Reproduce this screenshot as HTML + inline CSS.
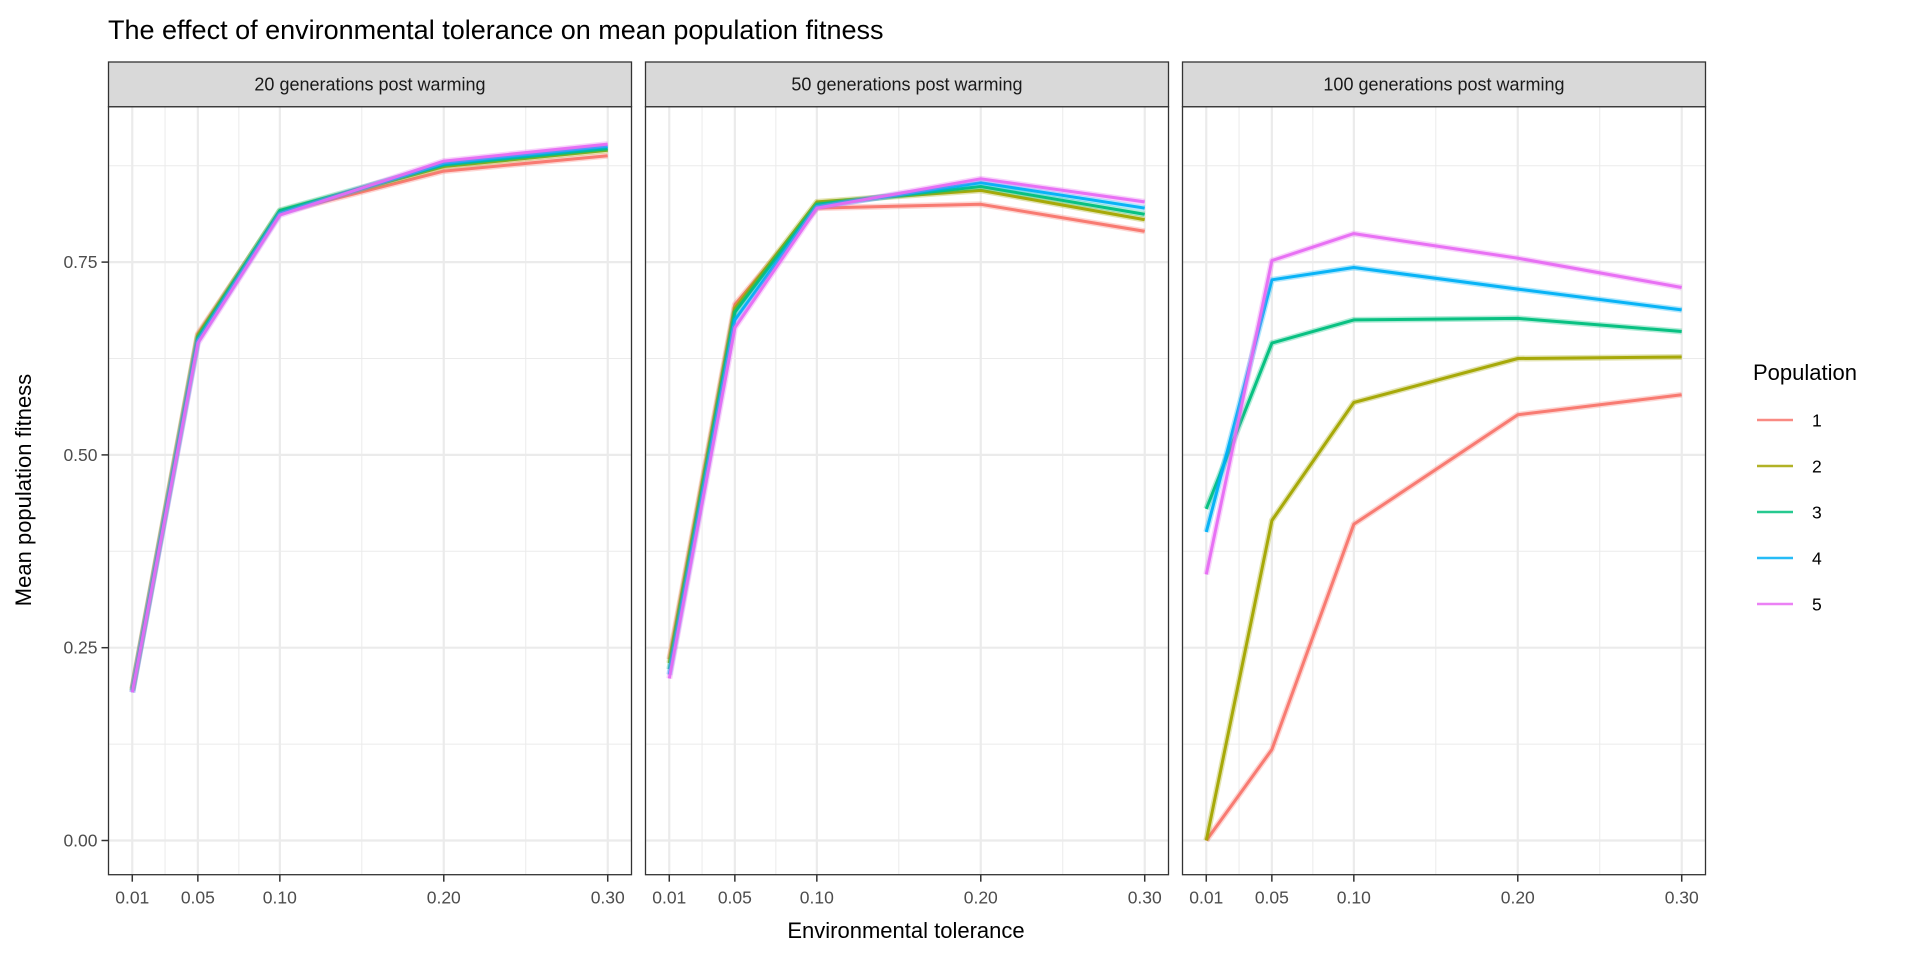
<!DOCTYPE html>
<html><head><meta charset="utf-8">
<style>
html,body{margin:0;padding:0;background:#fff;}
svg{display:block;font-family:"Liberation Sans",Arial,sans-serif;}
</style></head>
<body>
<svg id="chart" width="1920" height="960" viewBox="0 0 1920 960">
<text x="108" y="39" font-size="27" fill="#000">The effect of environmental tolerance on mean population fitness</text>
<text x="906" y="938" font-size="22" text-anchor="middle" fill="#000">Environmental tolerance</text>
<text x="0" y="0" font-size="22" text-anchor="middle" fill="#000" transform="translate(31,490) rotate(-90)">Mean population fitness</text>
<g id="legend">
<text x="1753" y="380" font-size="22" fill="#000">Population</text>
</g>
</svg>
<script>
const panelTitles = ["20 generations post warming","50 generations post warming","100 generations post warming"];
const xValues = [0.01,0.05,0.10,0.20,0.30];
const xTickLabels = ["0.01","0.05","0.10","0.20","0.30"];
const xMinor = [0.03,0.075,0.15,0.25];
const yTicks = [0,0.25,0.5,0.75];
const yTickLabels = ["0.00","0.25","0.50","0.75"];
const yMinor = [0.125,0.375,0.625,0.875];
const populations = ["1","2","3","4","5"];
const colors = ["#F8766D","#A3A500","#00BF7D","#00B0F6","#E76BF3"];
// panel 1: 20 generations
const gen20_p1 = [0.197,0.657,0.814,0.868,0.888];
const gen20_p2 = [0.195,0.655,0.816,0.874,0.895];
const gen20_p3 = [0.194,0.652,0.817,0.876,0.897];
const gen20_p4 = [0.192,0.648,0.813,0.878,0.900];
const gen20_p5 = [0.192,0.645,0.811,0.881,0.903];
// panel 2: 50 generations
const gen50_p1 = [0.235,0.695,0.820,0.825,0.790];
const gen50_p2 = [0.230,0.690,0.828,0.843,0.805];
const gen50_p3 = [0.222,0.685,0.825,0.848,0.812];
const gen50_p4 = [0.215,0.675,0.822,0.853,0.820];
const gen50_p5 = [0.210,0.665,0.820,0.858,0.828];
// panel 3: 100 generations
const gen100_p1 = [0.000,0.118,0.410,0.552,0.578];
const gen100_p2 = [0.000,0.415,0.568,0.625,0.627];
const gen100_p3 = [0.430,0.645,0.675,0.677,0.660];
const gen100_p4 = [0.400,0.727,0.743,0.715,0.688];
const gen100_p5 = [0.345,0.752,0.787,0.755,0.717];
const panelSeries = [[gen20_p1,gen20_p2,gen20_p3,gen20_p4,gen20_p5],[gen50_p1,gen50_p2,gen50_p3,gen50_p4,gen50_p5],[gen100_p1,gen100_p2,gen100_p3,gen100_p4,gen100_p5]];

const NS="http://www.w3.org/2000/svg";
const svg=document.getElementById('chart');
const panelLefts=[108.5,645.5,1182.5], panelW=523;
const pTop=106.7, pBot=874.7, stripTop=62;
const xDom=[-0.0045,0.3145];
function yScale(v){return 840.5-(v)*771.2;}
function mk(tag,attrs,parent){const e=document.createElementNS(NS,tag);for(const k in attrs)e.setAttribute(k,attrs[k]);(parent||svg).appendChild(e);return e;}

panelTitles.forEach((title,pi)=>{
  const L=panelLefts[pi];
  const xs=v=>L+(v-xDom[0])/(xDom[1]-xDom[0])*panelW;
  const g=mk('g',{});
  
  
  mk('rect',{x:L,y:pTop,width:panelW,height:pBot-pTop,fill:'#fff'},g);
  yMinor.forEach(v=>mk('line',{x1:L,x2:L+panelW,y1:yScale(v),y2:yScale(v),stroke:'#EBEBEB','stroke-width':1},g));
  xMinor.forEach(v=>mk('line',{x1:xs(v),x2:xs(v),y1:pTop,y2:pBot,stroke:'#EBEBEB','stroke-width':1},g));
  yTicks.forEach(v=>mk('line',{x1:L,x2:L+panelW,y1:yScale(v),y2:yScale(v),stroke:'#EBEBEB','stroke-width':2.2},g));
  xValues.forEach(v=>mk('line',{x1:xs(v),x2:xs(v),y1:pTop,y2:pBot,stroke:'#EBEBEB','stroke-width':2.2},g));
  panelSeries[pi].forEach((vals,si)=>{
    const pts=vals.map((v,i)=>xs(xValues[i]).toFixed(1)+','+yScale(v).toFixed(1)).join(' ');
    const halo=mk('polyline',{points:pts,fill:'none',stroke:colors[si],'stroke-width':6,'stroke-opacity':0.3,'stroke-linejoin':'round'},g);
    
    
    const ln=mk('polyline',{points:pts,fill:'none',stroke:colors[si],'stroke-width':3,'stroke-opacity':0.95,'stroke-linejoin':'round'},g);
    
    
  });
  mk('rect',{x:L,y:pTop,width:panelW,height:pBot-pTop,fill:'none',stroke:'#333','stroke-width':1.3},g);
  const strip=mk('rect',{x:L,y:stripTop,width:panelW,height:pTop-stripTop,fill:'#D9D9D9',stroke:'#333','stroke-width':1.3},g);
  
  
  const st=mk('text',{x:L+panelW/2,y:pTop-16,'font-size':18,'text-anchor':'middle',fill:'#1A1A1A'},g);
  st.textContent=title;
  
  
  xValues.forEach((v,i)=>{
    mk('line',{x1:xs(v),x2:xs(v),y1:pBot,y2:pBot+7,stroke:'#333','stroke-width':1.5},g);
    const t=mk('text',{x:xs(v),y:pBot+29,'font-size':17.5,'text-anchor':'middle',fill:'#4D4D4D'},g);
    t.textContent=xTickLabels[i];
    
    
  });
  if(pi===0){
    yTicks.forEach((v,i)=>{
      mk('line',{x1:L-7,x2:L,y1:yScale(v),y2:yScale(v),stroke:'#333','stroke-width':1.5},g);
      const t=mk('text',{x:L-11,y:yScale(v)+6,'font-size':17.5,'text-anchor':'end',fill:'#4D4D4D'},g);
      t.textContent=yTickLabels[i];
      
      
    });
  }
});
const leg=document.getElementById('legend');
populations.forEach((p,i)=>{
  const y=420+i*46;
  const l=mk('line',{x1:1757,x2:1793,y1:y,y2:y,stroke:colors[i],'stroke-width':2.6,'stroke-opacity':0.85},leg);
  
  
  const t=mk('text',{x:1812,y:y+6.5,'font-size':17.5,fill:'#000'},leg);
  t.textContent=p;
  
  
});
</script>
</body></html>
